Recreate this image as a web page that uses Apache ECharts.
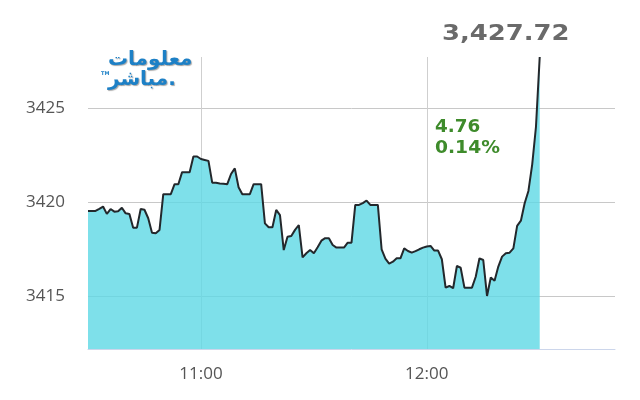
<!DOCTYPE html>
<html><head><meta charset="utf-8">
<script src="https://cdn.jsdelivr.net/npm/echarts@6/dist/echarts.min.js"></script>
<style>html,body{margin:0;padding:0;background:#fff}#c{width:640px;height:400px}</style>
</head><body><div id="c"></div>
<script>
// ---- data ----
const sessionStart = '10:30';
const sessionEnd = '12:50';
const xTickLabels = ['11:00', '12:00'];
const yTickLabels = [3415, 3420, 3425];
const yMin = 3412.2;
const yMax = 3427.72;
const values = [
  3419.54, 3419.54, 3419.54, 3419.65, 3419.77, 3419.38, 3419.64, 3419.50, 3419.52, 3419.71,
  3419.41, 3419.38, 3418.65, 3418.65, 3419.64, 3419.60, 3419.15, 3418.38, 3418.35, 3418.53,
  3420.43, 3420.43, 3420.43, 3420.96, 3420.96, 3421.60, 3421.60, 3421.60, 3422.43, 3422.43,
  3422.30, 3422.25, 3422.20, 3421.04, 3421.04, 3421.00, 3420.98, 3420.96, 3421.50, 3421.80,
  3420.80, 3420.43, 3420.43, 3420.43, 3420.96, 3420.96, 3420.96, 3418.88, 3418.67, 3418.67,
  3419.59, 3419.32, 3417.46, 3418.17, 3418.21, 3418.53, 3418.79, 3417.07, 3417.29, 3417.46,
  3417.29, 3417.61, 3417.96, 3418.09, 3418.09, 3417.73, 3417.59, 3417.59, 3417.59, 3417.85,
  3417.85, 3419.86, 3419.86, 3419.95, 3420.09, 3419.86, 3419.86, 3419.86, 3417.50, 3417.00,
  3416.74, 3416.84, 3417.02, 3417.02, 3417.55, 3417.41, 3417.32, 3417.40, 3417.50, 3417.59,
  3417.65, 3417.68, 3417.43, 3417.43, 3416.97, 3415.46, 3415.55, 3415.43, 3416.61, 3416.52,
  3415.46, 3415.46, 3415.46, 3416.04, 3417.02, 3416.93, 3415.02, 3416.00, 3415.83, 3416.58,
  3417.11, 3417.29, 3417.32, 3417.55, 3418.74, 3419.02, 3419.95, 3420.60, 3422.00, 3424.00,
  3427.72
];
const lastText = '3,427.72';
const changeText = '4.76';
const changePctText = '0.14%';
const logoLine1 = 'معلومات';
const logoLine2 = 'مباشر.';

// ---- build minute categories ----
function toMin(s) { const p = s.split(':'); return (+p[0]) * 60 + (+p[1]); }
const categories = [];
for (let m = toMin(sessionStart); m <= toMin(sessionEnd); m++) {
  categories.push(Math.floor(m / 60) + ':' + String(m % 60).padStart(2, '0'));
}
const showTick = (i, v) => xTickLabels.indexOf(v) >= 0;

const logoStyle = {
  font: 'bold 20px "DejaVu Sans"', fill: '#1d80c6', align: 'left', verticalAlign: 'middle',
  textShadowColor: 'rgba(0,0,0,0.35)', textShadowOffsetX: 1, textShadowOffsetY: 1, textShadowBlur: 1
};

const chart = echarts.init(document.getElementById('c'), null, { renderer: 'canvas' });
chart.setOption({
  animation: false,
  backgroundColor: '#fff',
  grid: { left: 88, right: 25, top: 57, bottom: 51 },
  xAxis: {
    type: 'category',
    data: categories,
    boundaryGap: false,
    axisLine: { show: true, lineStyle: { color: '#ccd6eb', width: 1 } },
    axisTick: { show: false },
    axisLabel: { interval: showTick, color: '#555', fontSize: 17, margin: 17, fontFamily: 'Open Sans' },
    splitLine: { show: true, interval: showTick, lineStyle: { color: '#cfcfcf', width: 1 } }
  },
  yAxis: {
    type: 'value',
    min: yMin,
    max: yMax,
    splitNumber: 3,
    axisLine: { show: false },
    axisTick: { show: false },
    axisLabel: {
      color: '#555', fontSize: 17, margin: 23, fontFamily: 'Open Sans',
      showMinLabel: false, showMaxLabel: false,
      formatter: v => (yTickLabels.indexOf(Math.round(v * 100) / 100) >= 0 ? String(v) : '')
    },
    splitLine: { show: true, showMinLine: false, showMaxLine: false, lineStyle: { color: '#c8c8c8', width: 1 } }
  },
  series: [{
    type: 'line',
    data: values,
    symbol: 'none',
    showSymbol: false,
    lineStyle: { color: '#23282c', width: 2 },
    areaStyle: { color: 'rgb(94,216,229)', opacity: 0.8, origin: 'start' }
  }],
  graphic: [
    { type: 'text', x: 442, y: 35, scaleX: 1.23, style: { text: lastText, font: 'bold 21px "DejaVu Sans"', fill: '#6a6a6a', align: 'left', verticalAlign: 'middle' } },
    { type: 'text', x: 435, y: 128, scaleX: 1.08, style: { text: changeText, font: 'bold 17px "DejaVu Sans"', fill: '#3e8b2b', align: 'left', verticalAlign: 'middle' } },
    { type: 'text', x: 435, y: 149, scaleX: 1.1, style: { text: changePctText, font: 'bold 17px "DejaVu Sans"', fill: '#3e8b2b', align: 'left', verticalAlign: 'middle' } },
    { type: 'text', x: 108, y: 60, scaleX: 1.0, style: Object.assign({ text: logoLine1 }, logoStyle) },
    { type: 'text', x: 108, y: 80, scaleX: 1.0, style: Object.assign({ text: logoLine2 }, logoStyle) },
    { type: 'text', x: 101, y: 74, style: { text: 'TM', font: 'bold 5px "DejaVu Sans"', fill: '#1d80c6', align: 'left', verticalAlign: 'middle' } }
  ]
});
</script>
</body></html>
